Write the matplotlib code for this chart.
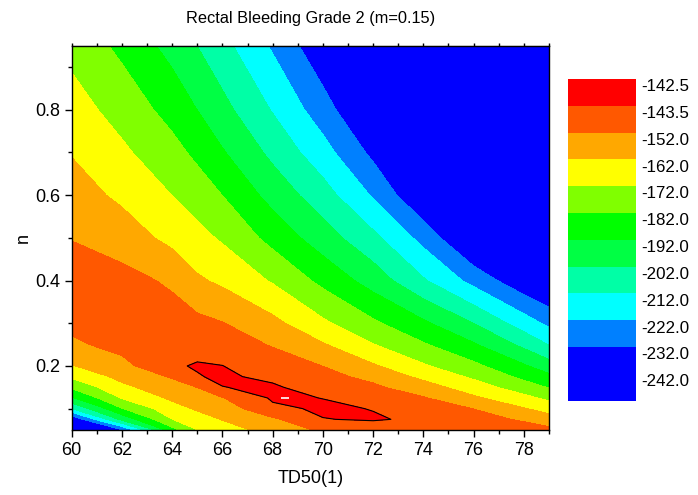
import numpy as np
import matplotlib
matplotlib.use('Agg')
import matplotlib.pyplot as plt

plt.rcParams['font.family'] = ['Liberation Sans', 'DejaVu Sans']

# Grid: TD50 across, n down the rows
td50 = [60, 62, 64, 65, 66, 68, 70, 72, 74, 76, 78, 79]
n_vals = [0.05, 0.075, 0.10, 0.125, 0.15, 0.175, 0.20, 0.25, 0.30,
          0.40, 0.50, 0.60, 0.70, 0.80, 0.95]

# log-likelihood, one row per n value (same order as n_vals)
loglik = [
    [-265.0, -233.0, -185.5, -172.2, -166.9, -158.0, -150.5, -147.5, -144.4, -146.5, -148.5, -149.5],
    [-241.0, -199.1, -172.1, -166.4, -161.5, -153.5, -143.7, -142.9, -144.6, -149.2, -153.0, -157.7],
    [-212.0, -182.5, -165.8, -160.8, -156.9, -145.0, -142.5, -143.7, -148.5, -152.1, -161.3, -166.0],
    [-193.3, -171.3, -160.3, -156.4, -152.4, -142.5, -143.6, -147.6, -151.2, -160.3, -169.2, -174.3],
    [-180.3, -164.4, -155.8, -151.9, -143.6, -142.7, -146.3, -150.3, -157.5, -167.3, -177.2, -182.6],
    [-170.4, -159.1, -151.1, -143.8, -142.7, -144.7, -149.2, -154.5, -164.5, -173.7, -184.5, -189.7],
    [-162.6, -154.8, -144.1, -143.1, -143.4, -147.3, -152.1, -160.8, -170.8, -179.6, -190.8, -197.5],
    [-153.7, -149.0, -144.8, -145.2, -147.3, -152.7, -161.1, -171.6, -181.0, -190.9, -204.5, -212.3],
    [-149.6, -146.7, -148.0, -149.3, -151.6, -159.3, -170.2, -180.3, -190.2, -202.1, -217.0, -224.3],
    [-148.2, -148.8, -153.5, -160.6, -163.9, -173.0, -184.7, -196.3, -210.9, -225.3, -239.4, -245.0],
    [-152.3, -156.6, -164.9, -168.9, -173.3, -185.3, -197.3, -209.5, -225.3, -245.0, -255.0, -260.0],
    [-157.4, -164.1, -172.1, -176.6, -182.1, -195.6, -207.7, -223.1, -242.0, -258.0, -268.0, -273.0],
    [-162.6, -170.2, -178.7, -184.3, -191.1, -204.5, -218.1, -234.5, -252.0, -270.0, -280.0, -285.0],
    [-167.7, -175.9, -185.6, -192.1, -198.9, -212.7, -227.4, -245.0, -262.0, -280.0, -292.0, -297.0],
    [-175.1, -184.4, -195.5, -202.1, -208.9, -223.3, -239.9, -260.0, -275.0, -295.0, -308.0, -313.0],
]

# contour levels (low to high) and fill colours
levels = [-330, -232, -222, -212, -202, -192, -182, -172, -162, -152, -143.5, -142.0]
fill_colors = ['#0000FF', '#0080FF', '#00FFFF', '#00FFA6', '#00FF44', '#00FF00',
               '#80FF00', '#FFFF00', '#FFA800', '#FF5800', '#FF0000']
cbar_labels = ['-142.5', '-143.5', '-152.0', '-162.0', '-172.0', '-182.0',
               '-192.0', '-202.0', '-212.0', '-222.0', '-232.0', '-242.0']

# best fit marker
best_td50 = [68.5]
best_n = [0.124]

X, Y = np.meshgrid(td50, n_vals)
Z = np.array(loglik)

fig = plt.figure(figsize=(6.98, 4.95), dpi=100)
ax = fig.add_axes([0.1027, 0.1313, 0.6838, 0.7764])

ax.contourf(X, Y, Z, levels=levels, colors=fill_colors)
ax.contour(X, Y, Z, levels=[-143.5], colors='black', linewidths=0.8,
           linestyles='solid')
ax.plot(best_td50, best_n, marker='_', color='white', markersize=6, mew=1.2)

ax.set_xlim(60, 79)
ax.set_ylim(0.05, 0.95)
ax.set_xticks(np.arange(60, 79, 2))
ax.set_xticks(np.arange(61, 80, 2), minor=True)
ax.set_yticks([0.2, 0.4, 0.6, 0.8])
ax.set_yticks([0.1, 0.3, 0.5, 0.7, 0.9], minor=True)
ax.tick_params(which='both', direction='out', labelsize=13, top=True, right=False)
ax.tick_params(which='major', length=5, width=1)
ax.tick_params(which='minor', length=3, width=1)
ax.tick_params(axis='x', which='both', top=False)
for s in ax.spines.values():
    s.set_linewidth(1)

# short ticks along the top edge, no labels
top = ax.secondary_xaxis('top')
top.set_xticks(np.arange(60, 80, 1))
top.tick_params(direction='out', length=2.5, width=1, labeltop=False)
top.set_xticklabels([])

ax.set_xlabel('TD50(1)', fontsize=13, labelpad=8)
ax.set_ylabel('n', fontsize=13, labelpad=2)
ax.set_title('Rectal Bleeding Grade 2 (m=0.15)', fontsize=11.8, pad=16)

# colour scale drawn as stacked boxes, blue box is two slots tall
cax = fig.add_axes([0.8142, 0.1905, 0.097, 0.650])
edges = [0] + list(range(2, 13))
for i, c in enumerate(fill_colors):
    cax.axhspan(edges[i], edges[i + 1], color=c, lw=0)
cax.set_ylim(0, 12)
cax.set_xlim(0, 1)
cax.axis('off')
for i, lab in enumerate(cbar_labels):
    cax.text(1.08, 12 - i - 0.29, lab, transform=cax.get_yaxis_transform(),
             ha='left', va='center', fontsize=12.2)

fig.savefig('out.png', dpi=100)
